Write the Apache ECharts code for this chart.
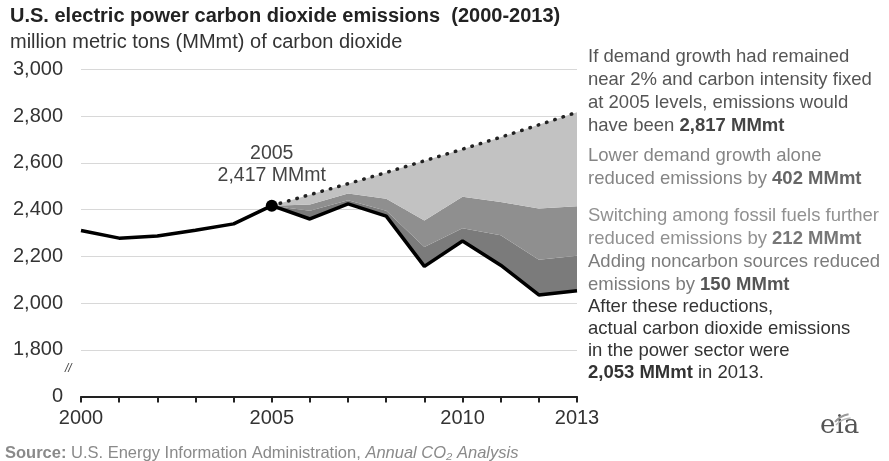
<!DOCTYPE html>
<html><head><meta charset="utf-8">
<script src="https://cdn.jsdelivr.net/npm/echarts@6/dist/echarts.min.js"></script>
<style>html,body{margin:0;padding:0;background:#fff}#c{width:889px;height:461px}</style>
</head><body><div id="c"></div>
<script>
// ---- data ----
const years = ['2000','2001','2002','2003','2004','2005','2006','2007','2008','2009','2010','2011','2012','2013'];
const actual = [2311,2278,2287,2312,2339,2417,2360,2425,2372,2157,2266,2162,2035,2053];
// counterfactual: demand ~2% growth, 2005 carbon intensity
const noChange = [null,null,null,null,null,2417,2464,2511,2559,2609,2659,2710,2763,2817];
// after lower demand growth
const afterDemand = [null,null,null,null,null,2417,2422,2469,2447,2354,2455,2433,2405,2415];
// after fuel switching
const afterSwitch = [null,null,null,null,null,2417,2395,2440,2395,2240,2320,2290,2185,2203];
const yTicks = [1600,1800,2000,2200,2400,2600,2800,3000];
const xLabelYears = ['2000','2005','2010','2013'];

const FONT = '"Liberation Sans", Arial, sans-serif';
const val = arr => arr.map(v => v==null ? '-' : v);
const diff = (a,b) => a.map((v,i)=> (v==null||b[i]==null) ? '-' : v-b[i]);

const chart = echarts.init(document.getElementById('c'), null, {renderer:'canvas'});
chart.setOption({
  animation:false,
  grid:{left:81,right:312,top:69.5,bottom:64.5},
  xAxis:{type:'category',data:years,boundaryGap:false,
    axisLine:{lineStyle:{color:'#222',width:2}},
    axisTick:{show:true,length:6,interval:0,lineStyle:{color:'#222',width:2}},
    splitLine:{show:false},
    axisLabel:{margin:12,fontSize:20,color:'#333',fontFamily:FONT,interval:0,
      formatter:v=>xLabelYears.includes(v)?v:''}
  },
  yAxis:{type:'value',min:1600,max:3000,interval:200,
    axisLine:{show:false},axisTick:{show:false},
    splitLine:{lineStyle:{color:'#d8d8d8',width:1}},
    axisLabel:{margin:18,fontSize:20,color:'#333',fontFamily:FONT,
      formatter:v=>v===yTicks[0]?'0':v.toLocaleString('en-US')}
  },
  series:[
    {name:'actual',type:'line',stack:'s',data:val(actual),symbol:'none',
      lineStyle:{color:'#000',width:3.5},z:6},
    {name:'noncarbon',type:'line',stack:'s',data:diff(afterSwitch,actual),symbol:'none',
      lineStyle:{width:0},areaStyle:{color:'#7b7b7b',opacity:1},z:2},
    {name:'switching',type:'line',stack:'s',data:diff(afterDemand,afterSwitch),symbol:'none',
      lineStyle:{width:0},areaStyle:{color:'#8f8f8f',opacity:1},z:2},
    {name:'demand',type:'line',stack:'s',data:diff(noChange,afterDemand),symbol:'none',
      lineStyle:{width:0},areaStyle:{color:'#c2c2c2',opacity:1},z:2},
    {name:'counterfactual',type:'line',data:val(noChange),symbol:'none',
      lineStyle:{color:'#222',width:3.5,type:[0.5,8.2],cap:'round'},z:5},
    {name:'point',type:'scatter',data:[[years[5],actual[5]]],symbolSize:12,
      itemStyle:{color:'#000',opacity:1},z:7,
      label:{show:true,position:'top',distance:13,color:'#444',fontSize:19.5,fontFamily:FONT,
        lineHeight:22,align:'center',
        formatter:'2005\n2,417 MMmt'}}
  ],
  graphic:[
    {type:'text',left:10,top:6,style:{text:'U.S. electric power carbon dioxide emissions  (2000-2013)',
      font:'bold 20px '+FONT,fill:'#222'}},
    {type:'text',left:10,top:32,style:{text:'million metric tons (MMmt) of carbon dioxide',
      font:'20px '+FONT,fill:'#333'}},
    {type:'text',left:65,top:363,style:{text:'//',font:'italic 12px '+FONT,fill:'#444'}},
    {type:'text',left:588,top:46,style:{
      text:'If demand growth had remained\nnear 2% and carbon intensity fixed\nat 2005 levels, emissions would\nhave been {b|2,817 MMmt}',
      font:'18.5px '+FONT,fill:'#555',lineHeight:22.7,
      rich:{b:{font:'bold 18.5px '+FONT,fill:'#444'}}}},
    {type:'text',left:588,top:145,style:{
      text:'Lower demand growth alone\nreduced emissions by {b|402 MMmt}',
      font:'18.5px '+FONT,fill:'#858585',lineHeight:22.5,
      rich:{b:{font:'bold 18.5px '+FONT,fill:'#666'}}}},
    {type:'text',left:588,top:205,style:{
      text:'Switching among fossil fuels further\nreduced emissions by {b|212 MMmt}',
      font:'18.5px '+FONT,fill:'#919191',lineHeight:22.5,
      rich:{b:{font:'bold 18.5px '+FONT,fill:'#777'}}}},
    {type:'text',left:588,top:251,style:{
      text:'Adding noncarbon sources reduced\nemissions by {b|150 MMmt}',
      font:'18.5px '+FONT,fill:'#7c7c7c',lineHeight:22.5,
      rich:{b:{font:'bold 18.5px '+FONT,fill:'#555'}}}},
    {type:'text',left:588,top:296,style:{
      text:'After these reductions,\nactual carbon dioxide emissions\nin the power sector were\n{b|2,053 MMmt} in 2013.',
      font:'18.5px '+FONT,fill:'#333',lineHeight:22,
      rich:{b:{font:'bold 18.5px '+FONT,fill:'#333'}}}},
    {type:'text',left:5,top:445,style:{
      text:'{b|Source:} U.S. Energy Information Administration, {i|Annual CO₂ Analysis}',
      font:'16.5px '+FONT,fill:'#8a8a8a',
      rich:{b:{font:'bold 16.5px '+FONT,fill:'#8a8a8a'},i:{font:'italic 16.5px '+FONT,fill:'#8a8a8a'}}}},
    {type:'text',left:820,top:413,style:{text:'eia',font:'26px "DejaVu Serif", "Liberation Serif", serif',fill:'#555'}},
    {type:'arc',shape:{cx:852,cy:436,r:22,startAngle:Math.PI*1.22,endAngle:Math.PI*1.45},
      style:{stroke:'#999',lineWidth:2,fill:null}},
    {type:'arc',shape:{cx:852,cy:440,r:22,startAngle:Math.PI*1.24,endAngle:Math.PI*1.48},
      style:{stroke:'#bbb',lineWidth:1.5,fill:null}}
  ]
});
</script></body></html>
